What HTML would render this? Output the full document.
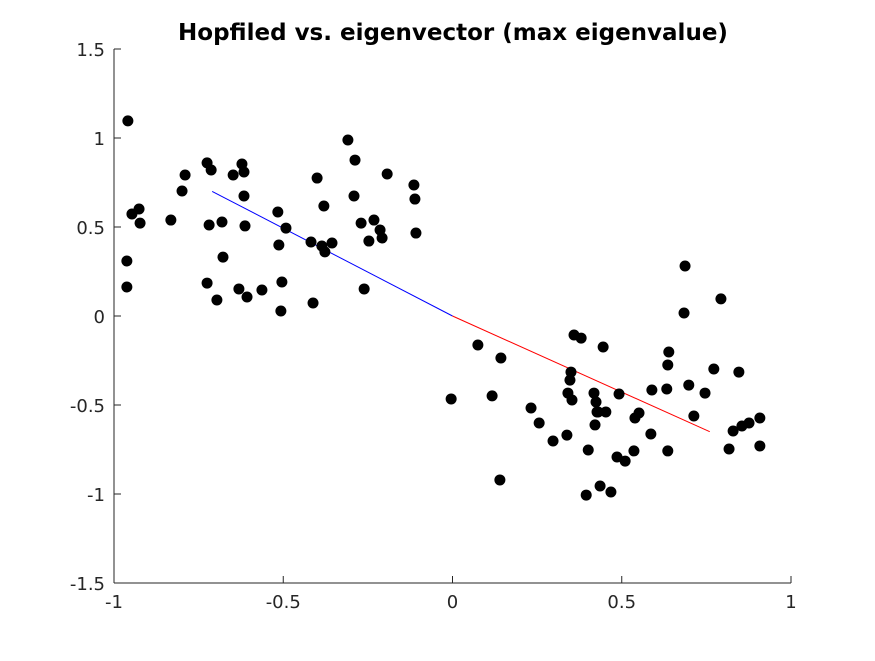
<!DOCTYPE html>
<html><head><meta charset="utf-8"><style>
html,body{margin:0;padding:0;background:#fff;}
svg text{font-family:"DejaVu Sans","Liberation Sans",sans-serif;}
</style></head><body>
<svg id="chart" width="875" height="656" xmlns="http://www.w3.org/2000/svg">
<rect width="875" height="656" fill="#fff"/>
<text x="453" y="40" text-anchor="middle" font-size="23" font-weight="bold">Hopfiled vs. eigenvector (max eigenvalue)</text>
<g id="axes"></g>
<g id="lines"></g>
<g id="points"></g>
</svg>
<script>
const xTicks=[-1,-0.5,0,0.5,1];
const xTickLabels=["-1","-0.5","0","0.5","1"];
const yTicks=[-1.5,-1,-0.5,0,0.5,1,1.5];
const yTickLabels=["-1.5","-1","-0.5","0","0.5","1","1.5"];
const xs=[-0.959,-0.947,-0.926,-0.923,-0.962,-0.962,-0.832,-0.799,-0.790,-0.725,-0.713,-0.719,-0.681,-0.725,-0.696,-0.678,-0.648,-0.622,-0.616,-0.616,-0.613,-0.631,-0.607,-0.563,-0.516,-0.513,-0.492,-0.504,-0.507,-0.418,-0.412,-0.400,-0.386,-0.380,-0.377,-0.356,-0.309,-0.291,-0.288,-0.270,-0.261,-0.247,-0.232,-0.214,-0.208,-0.193,-0.114,-0.111,-0.108,
-0.004,0.075,0.117,0.143,0.140,0.232,0.256,0.297,0.338,0.341,0.347,0.350,0.353,0.359,0.380,0.395,0.401,0.418,0.421,0.424,0.427,0.436,0.430,0.445,0.453,0.468,0.486,0.492,0.510,0.536,0.539,0.551,0.586,0.589,0.633,0.639,0.636,0.636,0.687,0.684,0.698,0.713,0.746,0.772,0.793,0.817,0.829,0.846,0.855,0.876,0.908,0.908];
const ys=[1.096,0.573,0.601,0.522,0.309,0.163,0.539,0.702,0.792,0.860,0.820,0.511,0.528,0.185,0.090,0.331,0.792,0.854,0.809,0.674,0.506,0.152,0.107,0.146,0.584,0.399,0.494,0.191,0.028,0.416,0.073,0.775,0.393,0.618,0.360,0.410,0.989,0.674,0.876,0.522,0.152,0.421,0.539,0.483,0.438,0.798,0.736,0.657,0.466,
-0.466,-0.163,-0.449,-0.236,-0.921,-0.517,-0.601,-0.702,-0.669,-0.433,-0.360,-0.315,-0.472,-0.107,-0.124,-1.006,-0.753,-0.433,-0.612,-0.483,-0.539,-0.955,-0.539,-0.174,-0.539,-0.989,-0.792,-0.438,-0.815,-0.758,-0.573,-0.545,-0.663,-0.416,-0.410,-0.202,-0.275,-0.758,0.281,0.017,-0.388,-0.562,-0.433,-0.298,0.096,-0.747,-0.646,-0.315,-0.618,-0.601,-0.730,-0.573];
const blueLine=[[-0.71,0.70],[0,0]];
const redLine=[[0,0],[0.76,-0.65]];
const NS="http://www.w3.org/2000/svg";
const X0=114,X1=791,Y0=583,Y1=49;
const sx=v=>X0+(v+1)/2*(X1-X0);
const sy=v=>Y0-(v+1.5)/3*(Y0-Y1);
function mk(t,a,p){const e=document.createElementNS(NS,t);for(const k in a)e.setAttribute(k,a[k]);p.appendChild(e);return e;}
const ax=document.getElementById('axes');
let l=mk('line',{x1:X0,y1:Y0,x2:X1,y2:Y0,stroke:'#262626','stroke-width':1},ax);


l=mk('line',{x1:X0,y1:Y0,x2:X0,y2:Y1,stroke:'#262626','stroke-width':1},ax);


xTicks.forEach((v,i)=>{const x=sx(v);
 mk('line',{x1:x,y1:Y0,x2:x,y2:Y0-7,stroke:'#262626'},ax);
 const t=mk('text',{x:x,y:Y0+25,'text-anchor':'middle','font-size':18,fill:'#262626'},ax);
 t.textContent=xTickLabels[i];
 
 });
yTicks.forEach((v,i)=>{const y=sy(v);
 mk('line',{x1:X0,y1:y,x2:X0+7,y2:y,stroke:'#262626'},ax);
 const t=mk('text',{x:X0-9,y:y+7,'text-anchor':'end','font-size':18,fill:'#262626'},ax);
 t.textContent=yTickLabels[i];
 
 });
const lg=document.getElementById('lines');
l=mk('line',{x1:sx(blueLine[0][0]),y1:sy(blueLine[0][1]),x2:sx(blueLine[1][0]),y2:sy(blueLine[1][1]),stroke:'#0000ff','stroke-width':1},lg);


l=mk('line',{x1:sx(redLine[0][0]),y1:sy(redLine[0][1]),x2:sx(redLine[1][0]),y2:sy(redLine[1][1]),stroke:'#ff0000','stroke-width':1},lg);


const pg=document.getElementById('points');
xs.forEach((v,i)=>{const c=mk('circle',{cx:sx(v),cy:sy(ys[i]),r:5.5,fill:'#000'},pg);
 
 });
</script>
</body></html>
